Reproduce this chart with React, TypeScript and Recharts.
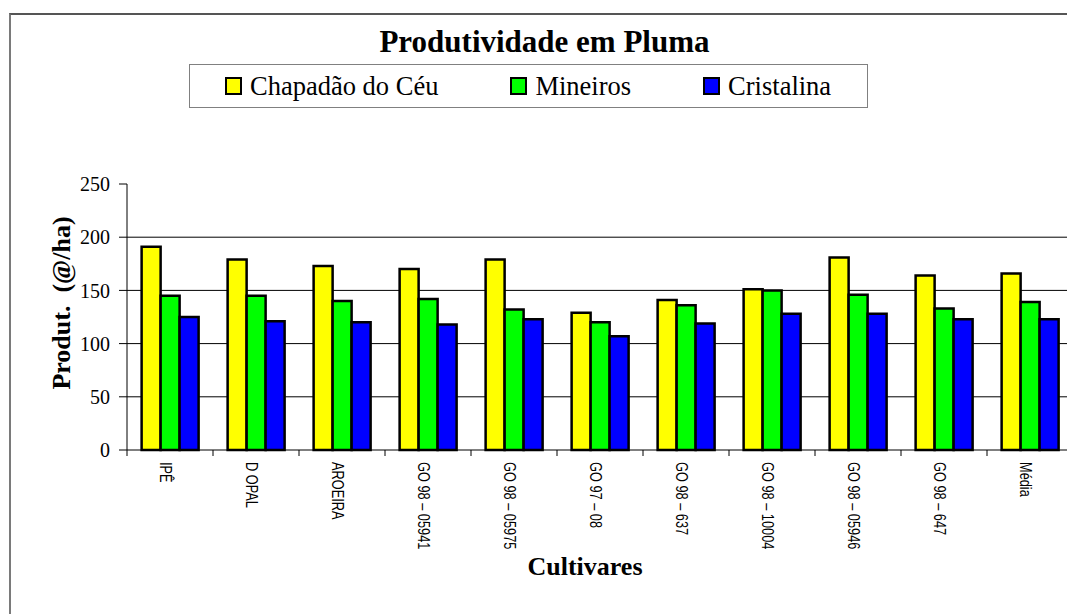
import React from "react";
import { BarChart, Bar, XAxis, YAxis, CartesianGrid } from "recharts";

// cultivares (eixo x)
const categories = [
  "IPÊ",
  "D OPAL",
  "AROEIRA",
  "GO 98 – 05941",
  "GO 98 – 05975",
  "GO 97 – 08",
  "GO 98 – 637",
  "GO 98 – 10004",
  "GO 98 – 05946",
  "GO 98 – 647",
  "Média"
];

// produtividade (@/ha) por local
const chapadao = [191, 179, 173, 170, 179, 129, 141, 151, 181, 164, 166];
const mineiros = [145, 145, 140, 142, 132, 120, 136, 150, 146, 133, 139];
const cristalina = [125, 121, 120, 118, 123, 107, 119, 128, 128, 123, 123];

const yTicks = [0, 50, 100, 150, 200, 250];
const gridValues = [50, 100, 150, 200];

const seriesList = [
  { key: "chapadao", name: "Chapadão do Céu", color: "#FFFF00" },
  { key: "mineiros", name: "Mineiros", color: "#00FF00" },
  { key: "cristalina", name: "Cristalina", color: "#0000FF" }
];

const data = categories.map((c, i) => ({
  cultivar: c,
  chapadao: chapadao[i],
  mineiros: mineiros[i],
  cristalina: cristalina[i]
}));

const SERIF = '"Liberation Serif", "Times New Roman", serif';
const SANS = '"Liberation Sans", Arial, sans-serif';

const CHART_W = 1100;
const CHART_H = 614;
const Y_AXIS_W = 127;
const MARGIN = { top: 184, right: 27, left: 0, bottom: 0 };
const band = (CHART_W - Y_AXIS_W - MARGIN.right) / categories.length;

// tick label rotated 90deg (condensed), tick marks at the category boundaries
const XTick = ({ x, y, payload }: any) => (
  <g>
    <line x1={x - band / 2} x2={x - band / 2} y1={y} y2={y + 6} stroke="#000" strokeWidth={1} />
    <text
      transform={`translate(${x - 4},${y + 12}) rotate(90) scale(0.8,1)`}
      textAnchor="start"
      dominantBaseline="central"
      fontFamily={SANS}
      fontSize={16}
      fill="#000"
    >
      {payload.value}
    </text>
  </g>
);

export default function App() {
  return (
    <div
      style={{
        position: "absolute",
        left: 0,
        top: 0,
        width: 1067,
        height: 614,
        overflow: "hidden",
        background: "#fff"
      }}
    >
      {/* chart frame */}
      <div
        style={{
          position: "absolute",
          left: 9,
          top: 13,
          width: 1200,
          height: 800,
          borderLeft: "2px solid #7a7a7a",
          borderTop: "2px solid #555"
        }}
      />

      <BarChart
        width={CHART_W}
        height={CHART_H}
        data={data}
        margin={MARGIN}
        barCategoryGap="17%"
        barGap={0}
        style={{ position: "absolute", left: 0, top: 0 }}
      >
        <CartesianGrid vertical={false} horizontalValues={gridValues} stroke="#000" strokeWidth={1} />
        <XAxis
          dataKey="cultivar"
          height={CHART_H - 450}
          stroke="#000"
          tickSize={0}
          tickMargin={0}
          interval={0}
          tick={<XTick />}
          label={() => (
            <text x={585} y={575} textAnchor="middle" fontFamily={SERIF} fontWeight="bold" fontSize={26} fill="#000">
              Cultivares
            </text>
          )}
        />
        <YAxis
          width={Y_AXIS_W}
          domain={[0, 250]}
          ticks={yTicks}
          interval={0}
          stroke="#000"
          tickSize={8}
          tickMargin={9}
          tick={{ fill: "#000", fontFamily: SERIF, fontSize: 20 }}
          label={() => (
            <text
              transform="translate(70,303) rotate(-90)"
              textAnchor="middle"
              fontFamily={SERIF}
              fontWeight="bold"
              fontSize={26}
              fill="#000"
              style={{ whiteSpace: "pre" }}
            >
              {"Produt.  (@/ha)"}
            </text>
          )}
        />
        {seriesList.map((s) => (
          <Bar
            key={s.key}
            dataKey={s.key}
            name={s.name}
            fill={s.color}
            stroke="#000"
            strokeWidth={2.5}
            isAnimationActive={false}
          />
        ))}
      </BarChart>

      {/* title */}
      <div
        style={{
          position: "absolute",
          left: 0,
          width: 1089,
          top: 24,
          textAlign: "center",
          fontFamily: SERIF,
          fontWeight: "bold",
          fontSize: 31,
          lineHeight: "36px",
          color: "#000"
        }}
      >
        Produtividade em Pluma
      </div>

      {/* legend */}
      <div
        style={{
          position: "absolute",
          left: 189,
          top: 64,
          width: 679,
          height: 44,
          boxSizing: "border-box",
          border: "1px solid #808080",
          background: "#fff",
          display: "flex",
          alignItems: "center",
          paddingLeft: 35,
          gap: 72,
          fontFamily: SERIF,
          fontSize: 26.5,
          color: "#000"
        }}
      >
        {seriesList.map((s) => (
          <div key={s.key} style={{ display: "flex", alignItems: "center", whiteSpace: "nowrap" }}>
            <span
              style={{
                display: "inline-block",
                width: 13,
                height: 14,
                background: s.color,
                border: "2px solid #000",
                marginRight: 8
              }}
            />
            <span>{s.name}</span>
          </div>
        ))}
      </div>
    </div>
  );
}
